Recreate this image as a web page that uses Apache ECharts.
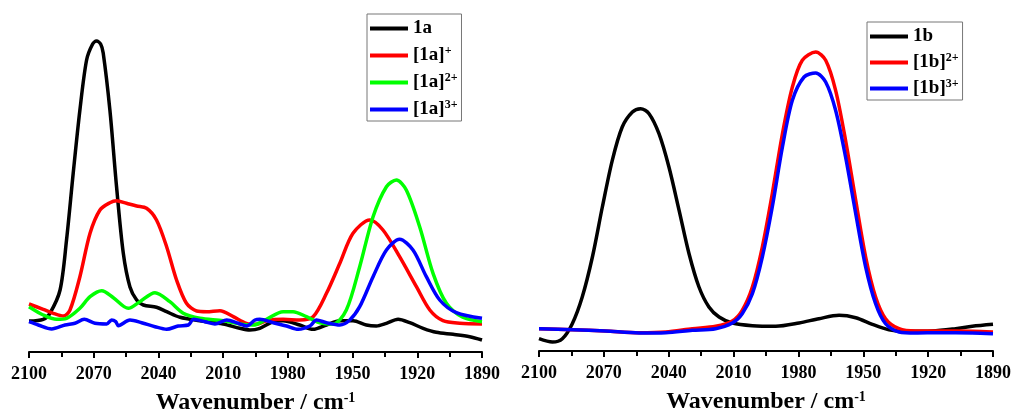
<!DOCTYPE html>
<html>
<head>
<meta charset="utf-8">
<script src="https://cdn.jsdelivr.net/npm/echarts@6/dist/echarts.min.js"></script>
<style>
  html, body { margin: 0; padding: 0; background: #fff; }
  #main { width: 1012px; height: 411px; }
</style>
</head>
<body>
<div id="main"></div>
<script>
// x ticks (wavenumber, cm-1), shared by both panels
var xMin = 1890;
var xMax = 2100;
var xStep = 30;

// left panel: [wavenumber, absorbance (arb.)]
var s1a = [[2100,31],[2093.4,32.7],[2090.3,38.7],[2085.6,62],[2082.6,112],[2079.5,179],[2076.4,242],[2073.3,292],[2070.5,308],[2068.7,311],[2066.8,308],[2065.6,299],[2062.5,242],[2059.4,165],[2056.3,99],[2053.2,65],[2050.1,52],[2047,47],[2040.9,44.7],[2036.2,40.3],[2030,34.7],[2020.8,31.3],[2010,28],[2002.3,23.7],[1997.6,22],[1993,23.7],[1986.8,30.3],[1982.2,31.3],[1974.5,27],[1968.3,22.7],[1962.1,27],[1955.9,31.3],[1949.8,31.3],[1943.6,27],[1939,26],[1934.3,28.7],[1928.9,32.7],[1923.5,29.3],[1917.3,23.7],[1911.2,19.7],[1903.4,17.7],[1895.7,15.3],[1890,12]];
var s1aPlus = [[2100,48],[2093.4,42.7],[2088.7,38.7],[2084.1,36],[2081,42],[2076.4,75.3],[2071.7,118.7],[2067.1,142],[2062.5,149.3],[2059.4,151.3],[2054.8,148.7],[2050.1,146],[2045.5,143.7],[2040.9,132],[2036.2,105.3],[2031.6,72],[2027,48.7],[2022.3,41],[2017.7,40.3],[2011.5,41.3],[2005.3,35.3],[1999.2,28.7],[1994.5,27.7],[1989.9,31.3],[1982.2,32.7],[1974.5,32],[1968.3,35.3],[1962.1,58.7],[1955.9,88.7],[1949.8,118.7],[1942,132],[1935.9,122],[1928.2,95.3],[1920.4,65.3],[1914.2,42],[1908.1,31.3],[1900.3,28.7],[1890,28]];
var s1a2Plus = [[2100,45.3],[2093.4,37],[2087.2,32.7],[2082.6,33.7],[2076.4,43.7],[2071.7,55.3],[2066.3,61.3],[2060.9,54.3],[2054,43.7],[2048.6,50.3],[2041.6,59.3],[2034.7,50.3],[2028.5,38.7],[2020.8,33.7],[2010,31.3],[2002.3,28],[1996.1,27],[1989.9,32.7],[1982.2,40.3],[1977.6,40.3],[1971.4,35.3],[1965.2,29.3],[1959,28],[1952.9,42],[1946.7,85.3],[1940.5,135.3],[1934.3,165.3],[1929.7,172],[1925.1,162],[1918.9,125.3],[1912.7,78.7],[1906.5,48.7],[1898.9,34.7],[1890,30.3]];
var s1a3Plus = [[2100,30.3],[2095.7,27],[2089.5,23],[2083.3,27],[2078.7,28.7],[2074.4,32.7],[2069.4,28.7],[2064,28],[2061.7,32],[2059.8,30.3],[2058.6,26.3],[2053.2,32],[2047.8,29.3],[2041.6,25.3],[2036.2,22.7],[2030.8,26],[2026.1,27],[2023.8,32.7],[2018.4,30.3],[2013.8,28],[2008.3,32],[2003,28.7],[1999.1,26],[1995.2,32],[1993,32.7],[1986.8,29.3],[1980.6,26],[1975.2,22.7],[1969.8,26],[1966.7,32],[1962.1,29.3],[1955.9,27],[1951.3,32],[1946.7,45.3],[1940.5,75.3],[1934.3,102],[1928.2,112.7],[1922,102],[1915.8,75.3],[1909.6,52],[1901.9,39.3],[1890,33.7]];

// right panel
var s1b = [[2100,12.3],[2093.8,9],[2089.2,12.3],[2084.6,27.3],[2080,54],[2075.3,94],[2070.7,144],[2066.1,190.7],[2061.5,224],[2056.8,239],[2053,242.3],[2049.1,237.3],[2044.5,217.3],[2039.9,184],[2035.2,140.7],[2030.6,97.3],[2026,64],[2021.4,44],[2016.7,34],[2010.6,28],[2001.3,25.3],[1990.5,24.7],[1979.7,28],[1970.5,32.3],[1961.2,35.7],[1953.5,33.3],[1945.8,26.7],[1938.1,21.3],[1930.4,19.7],[1918.1,20],[1907.3,22.3],[1899.6,24.7],[1890,26.7]];
var s1b2Plus = [[2100,22.3],[2084.6,21.3],[2069.2,20],[2053.7,18.3],[2041.4,19],[2029.1,22.3],[2018.3,24.7],[2010.6,30],[2006,40.7],[2001.3,64],[1996.7,104],[1992.1,157.3],[1987.4,217.3],[1982.8,264],[1978.2,290.7],[1972,299],[1967.4,290.7],[1962.8,260.7],[1958.2,210.7],[1953.5,150.7],[1948.9,94],[1944.3,54],[1939.7,32.3],[1933.5,22.3],[1925.8,20],[1915,20],[1899.6,19.7],[1890,19]];
var s1b3Plus = [[2100,22.3],[2084.6,21.3],[2069.2,20],[2053.7,18],[2041.4,18.3],[2029.1,20.7],[2018.3,22.3],[2010.6,28],[2006,37.3],[2001.3,57.3],[1996.7,94],[1992.1,144],[1987.4,204],[1982.8,250.7],[1977.4,274],[1972,278],[1967.4,269],[1962.8,240.7],[1958.2,194],[1953.5,137.3],[1948.9,84],[1944.3,47.3],[1939.7,27.3],[1933.5,19],[1925.8,18],[1915,18.3],[1899.6,18],[1890,17.3]];

var names1 = ['1a', '[1a]+', '[1a]2+', '[1a]3+'];
var names2 = ['1b', '[1b]2+', '[1b]3+'];

var chart = echarts.init(document.getElementById('main'));

var serif = '"Liberation Serif", "Times New Roman", serif';

function xAxisFor(idx) {
  return {
    gridIndex: idx,
    type: 'value',
    inverse: true,
    min: xMin,
    max: xMax,
    interval: xStep,
    name: '{t|Wavenumber / cm}{s|-1}',
    nameLocation: 'middle',
    nameGap: 39,
    nameTextStyle: {
      rich: {
        t: { fontFamily: serif, fontWeight: 'bold', fontSize: 24, color: '#000' },
        s: { fontFamily: serif, fontWeight: 'bold', fontSize: 14, color: '#000', verticalAlign: 'top', padding: [0, 0, 10, 0] }
      }
    },
    axisLine: { lineStyle: { color: '#000', width: 2 } },
    axisTick: { inside: false, length: 6, lineStyle: { color: '#000', width: 2 } },
    minorTick: { show: true, splitNumber: 2, length: 5, lineStyle: { color: '#000', width: 2 } },
    axisLabel: {
      fontFamily: serif, fontWeight: 'bold', fontSize: 18, color: '#000', margin: 13,
      formatter: function (v) { return String(v); }
    },
    splitLine: { show: false },
    minorSplitLine: { show: false }
  };
}

function yAxisFor(idx) {
  return {
    gridIndex: idx,
    type: 'value',
    min: 0,
    max: 350,
    show: false
  };
}

function legendFor(names, left, top, gap) {
  return {
    data: names,
    orient: 'vertical',
    left: left,
    top: top,
    icon: 'rect',
    itemWidth: 38,
    itemHeight: 4,
    itemGap: gap,
    borderColor: '#777',
    borderWidth: 1,
    padding: [5, 4, 2, 3],
    formatter: function (n) {
      var m = n.match(/^(\[[^\]]+\])(.*)$/);
      if (m) return '{b|' + m[1] + '}{s|' + m[2] + '}';
      return '{b|' + n + '}';
    },
    textStyle: {
      rich: {
        b: { fontFamily: serif, fontWeight: 'bold', fontSize: 19, color: '#000', lineHeight: 20 },
        s: { fontFamily: serif, fontWeight: 'bold', fontSize: 12, color: '#000', verticalAlign: 'top', padding: [0, 0, 9, 0] }
      }
    }
  };
}

function line(name, data, color, idx) {
  return {
    name: name,
    type: 'line',
    xAxisIndex: idx,
    yAxisIndex: idx,
    data: data,
    smooth: 0.3,
    symbol: 'none',
    color: color,
    lineStyle: { color: color, width: 3.5 }
  };
}

var option = {
  backgroundColor: '#fff',
  animation: false,
  grid: [
    { left: 29, width: 453, top: 2, height: 350, outerBoundsMode: 'none' },
    { left: 539, width: 454, top: 1, height: 350, outerBoundsMode: 'none' }
  ],
  xAxis: [xAxisFor(0), xAxisFor(1)],
  yAxis: [yAxisFor(0), yAxisFor(1)],
  legend: [
    legendFor(names1, 367, 14, 7),
    legendFor(names2, 867, 22, 6)
  ],
  series: [
    line(names1[0], s1a, '#000000', 0),
    line(names1[1], s1aPlus, '#ff0000', 0),
    line(names1[2], s1a2Plus, '#00ff00', 0),
    line(names1[3], s1a3Plus, '#0000ff', 0),
    line(names2[0], s1b, '#000000', 1),
    line(names2[1], s1b2Plus, '#ff0000', 1),
    line(names2[2], s1b3Plus, '#0000ff', 1)
  ]
};

chart.setOption(option);
</script>
</body>
</html>
